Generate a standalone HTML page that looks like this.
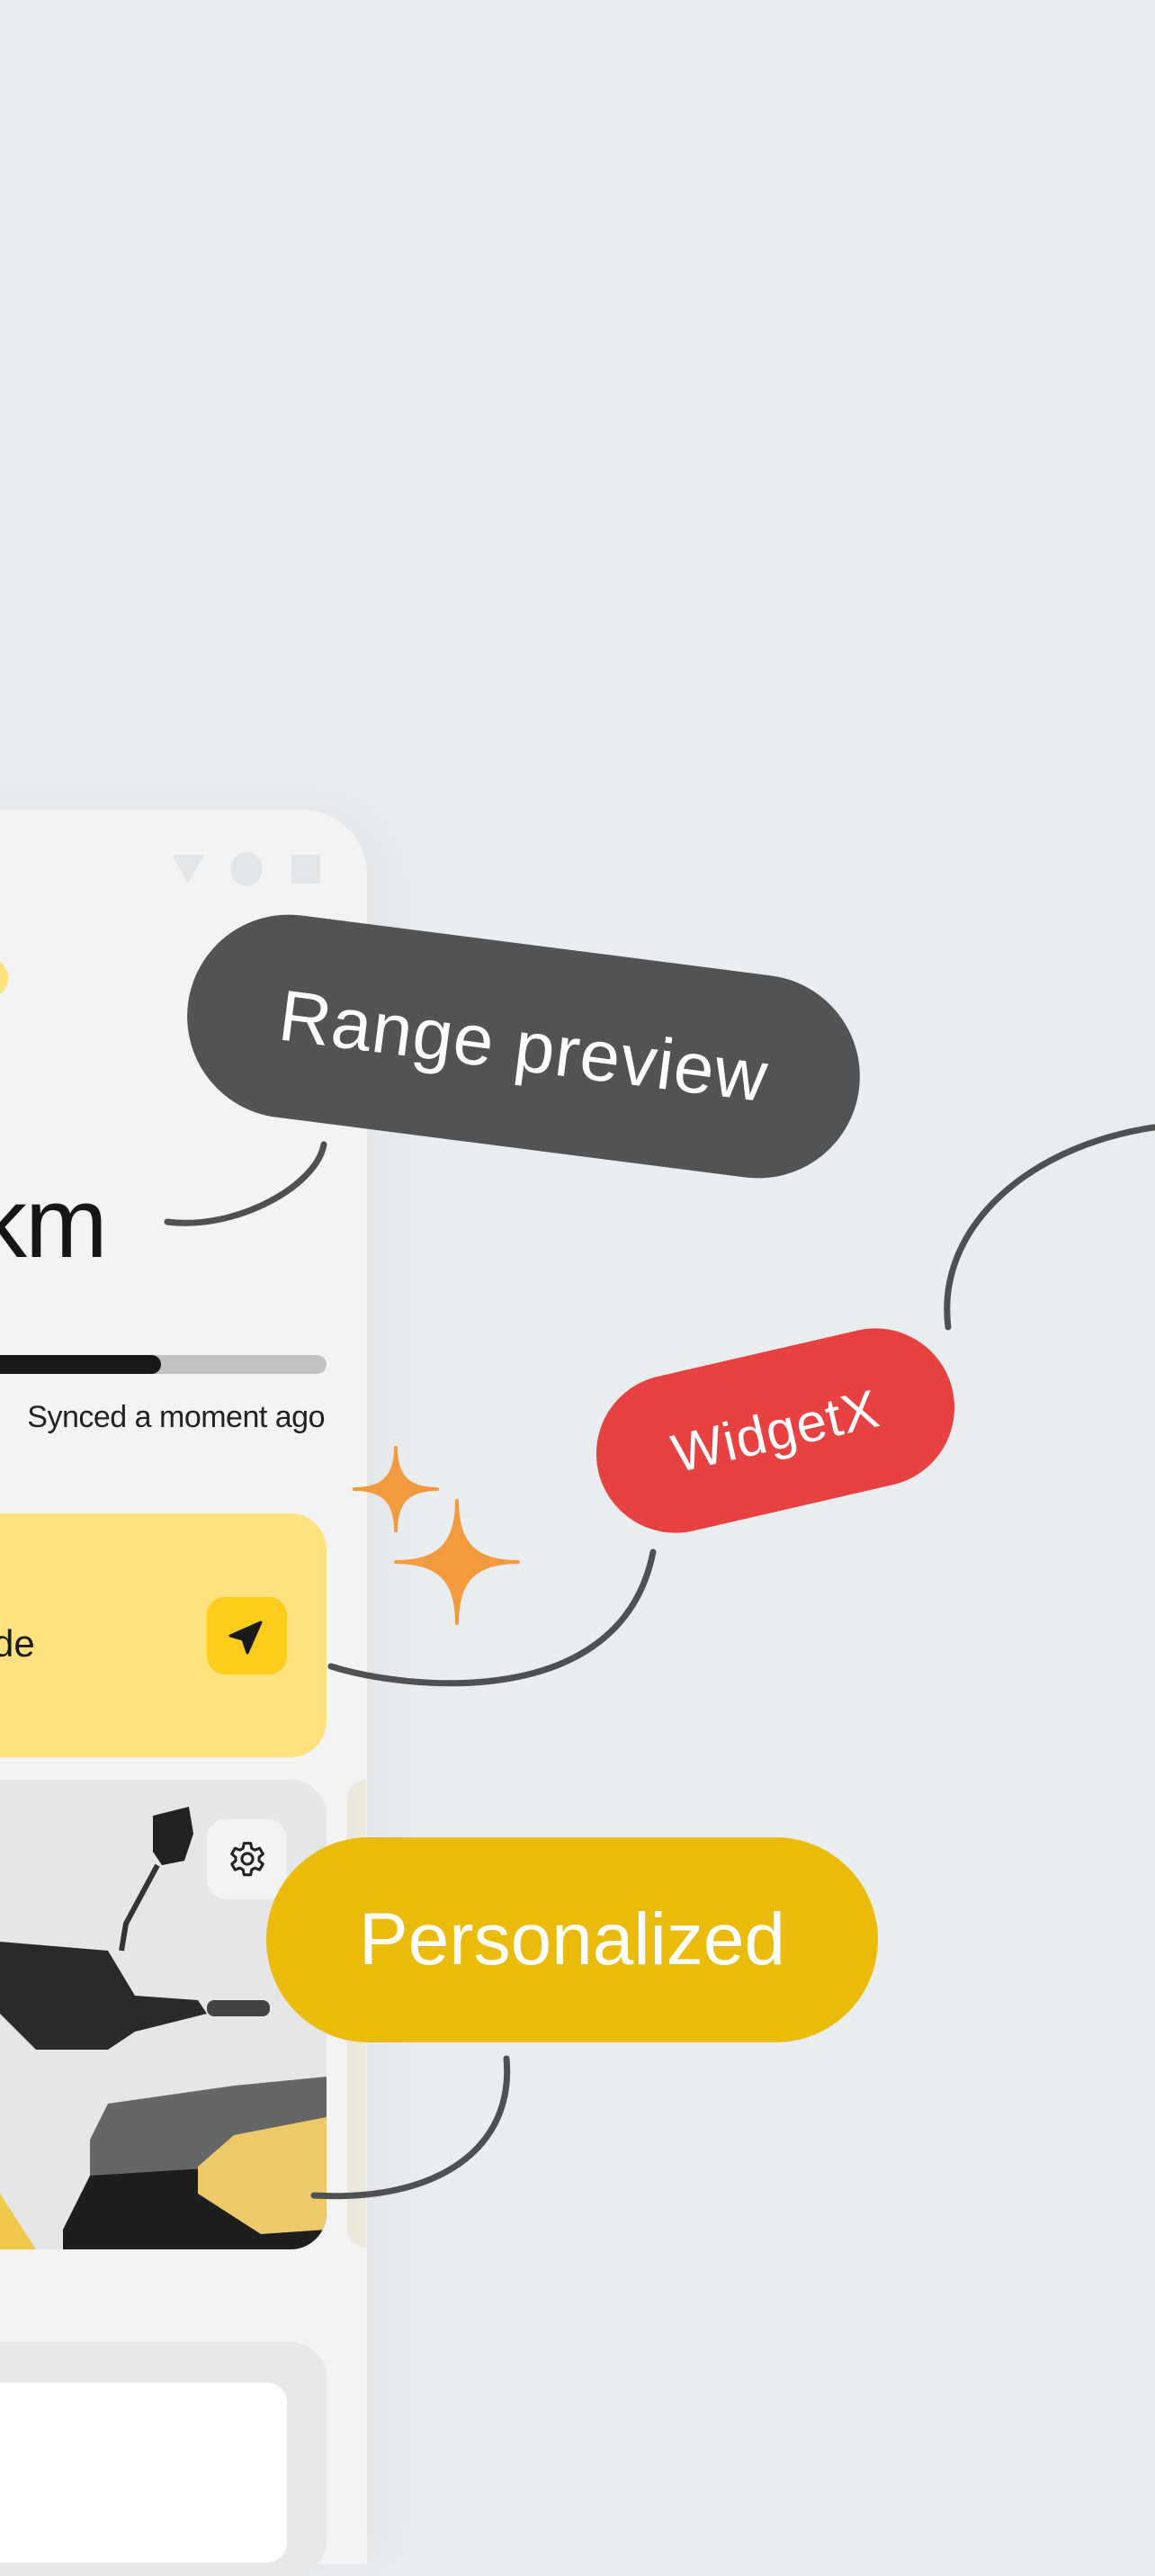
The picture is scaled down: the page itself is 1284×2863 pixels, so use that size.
<!DOCTYPE html>
<html><head><meta charset="utf-8"><style>
*{margin:0;padding:0;box-sizing:border-box}
body{width:1284px;height:2778px;background:#eaedf0;position:relative;overflow:hidden;font-family:"Liberation Sans",sans-serif}
.abs{position:absolute}
.pill{position:absolute;display:flex;align-items:center;justify-content:center;color:#fff;white-space:nowrap}
</style></head><body>
<!-- phone -->
<div class="abs" style="left:-60px;top:900px;width:468px;height:1950px;background:#f3f3f3;border-radius:0 72px 0 0;box-shadow:20px 0 60px rgba(0,0,0,0.04)"></div>
<svg class="abs" style="left:0;top:0" width="1284" height="2778">
  <polygon points="191,950 227,950 209,982" fill="#e2e5e8"/>
  <ellipse cx="274" cy="966" rx="18" ry="19" fill="#e2e5e8"/>
  <rect x="324" y="950" width="32" height="32" fill="#e2e5e8"/>
  <circle cx="-14" cy="1087" r="23" fill="#ffe17d"/>
</svg>
<div class="abs" style="left:-78px;top:1296px;font-size:110px;color:#161616;letter-spacing:-2px">xkm</div>
<div class="abs" style="left:-20px;top:1506px;width:383px;height:21px;border-radius:11px;background:#c0c2c4"></div>
<div class="abs" style="left:-20px;top:1506px;width:199px;height:21px;border-radius:11px;background:#18181a"></div>
<div class="abs" style="right:923px;top:1556px;font-size:34px;color:#222;white-space:nowrap;letter-spacing:-0.5px">Synced a moment ago</div>
<!-- yellow card -->
<div class="abs" style="left:-40px;top:1682px;width:403px;height:271px;border-radius:40px;background:#ffe17d"></div>
<div class="abs" style="left:-8px;top:1803px;font-size:42px;color:#1a1a1a">de</div>
<div class="abs" style="left:230px;top:1775px;width:89px;height:86px;border-radius:20px;background:#fccd1d"></div>
<svg class="abs" style="left:250px;top:1795px" width="50" height="50"><path d="M40,8 L6,23 L20,27 L25,42 Z" fill="#1a1a1a" stroke="#1a1a1a" stroke-width="3" stroke-linejoin="round"/></svg>
<!-- scooter card -->
<div class="abs" style="left:-40px;top:1978px;width:403px;height:522px;border-radius:40px;background:#e5e6e8;overflow:hidden">
 <svg width="403" height="522">
  <path d="M210,40 L250,30 L255,60 L245,90 L220,95 L210,80 Z" fill="#222"/>
  <path d="M215,95 L180,160 L175,190" stroke="#333" stroke-width="6" fill="none"/>
  <path d="M40,180 L160,190 L190,240 L260,245 L270,260 L190,280 L160,300 L80,300 L40,260 Z" fill="#2a2a2a"/>
  <rect x="270" y="245" width="70" height="18" rx="8" fill="#444"/>
  <path d="M140,400 L160,360 L300,340 L403,330 L403,430 L300,430 L230,440 L140,440 Z" fill="#666"/>
  <path d="M110,500 L140,440 L300,430 L403,430 L403,522 L110,522 Z" fill="#1e1e1e"/>
  <path d="M260,430 L300,395 L403,375 L403,500 L330,505 L260,460 Z" fill="#ecca6a"/>
  <path d="M40,460 L80,522 L40,522 Z" fill="#f0c84a"/>
 </svg>
</div>
<div class="abs" style="left:230px;top:2022px;width:89px;height:89px;border-radius:22px;background:#f3f3f3"></div>
<svg class="abs" style="left:249px;top:2041px" width="52" height="52" viewBox="0 0 24 24"><path d="M10.3 2h3.4l.5 2.6 1.6.9 2.5-.9 1.7 2.9-2 1.7v1.8l2 1.7-1.7 2.9-2.5-.9-1.6.9-.5 2.6h-3.4l-.5-2.6-1.6-.9-2.5.9-1.7-2.9 2-1.7V9.2l-2-1.7 1.7-2.9 2.5.9 1.6-.9z" transform="translate(0,1.5)" fill="none" stroke="#222" stroke-width="1.4" stroke-linejoin="round"/><circle cx="12" cy="11.5" r="2.8" fill="none" stroke="#222" stroke-width="1.4"/></svg>
<div class="abs" style="left:386px;top:1978px;width:21px;height:520px;border-radius:21px 0 0 21px;background:#ebe7da"></div>
<!-- bottom card -->
<div class="abs" style="left:-40px;top:2603px;width:403px;height:260px;border-radius:40px;background:#e6e7e9"></div>
<div class="abs" style="left:-40px;top:2648px;width:359px;height:200px;border-radius:22px;background:#fff"></div>
<!-- connectors -->
<svg class="abs" style="left:0;top:0" width="1284" height="2778" fill="none" stroke="#4f5052" stroke-width="7" stroke-linecap="round">
  <path d="M186,1358 C262,1368 352,1318 360,1272"/>
  <path d="M368,1852 C450,1878 690,1905 726,1725"/>
  <path d="M1054,1475 C1040,1360 1150,1270 1290,1252"/>
  <path d="M563,2288 C572,2385 490,2448 349,2440"/>
</svg>
<!-- sparkles -->
<svg class="abs" style="left:0;top:0" width="1284" height="2778">
  <g fill="#f19a3e" stroke="#f19a3e" stroke-width="4" stroke-linejoin="round">
   <path transform="translate(440,1655)" d="M0,-46 C0,-14 14,0 46,0 C14,0 0,14 0,46 C0,14 -14,0 -46,0 C-14,0 0,-14 0,-46Z"/>
   <path transform="translate(508,1736)" d="M0,-68 C0,-20 20,0 68,0 C20,0 0,20 0,68 C0,20 -20,0 -68,0 C-20,0 0,-20 0,-68Z"/>
  </g>
</svg>
<!-- pills -->
<div class="pill" style="left:206px;top:1050px;width:752px;height:226px;border-radius:113px;background:#525355;transform:rotate(7.3deg);font-size:80px;letter-spacing:1px">Range preview</div>
<div class="pill" style="left:660px;top:1502px;width:404px;height:176px;border-radius:88px;background:#e84142;transform:rotate(-13deg);font-size:60px;letter-spacing:1px">WidgetX</div>
<div class="pill" style="left:296px;top:2042px;width:680px;height:228px;border-radius:114px;background:#ebbb0c;font-size:82px">Personalized</div>
</body></html>
